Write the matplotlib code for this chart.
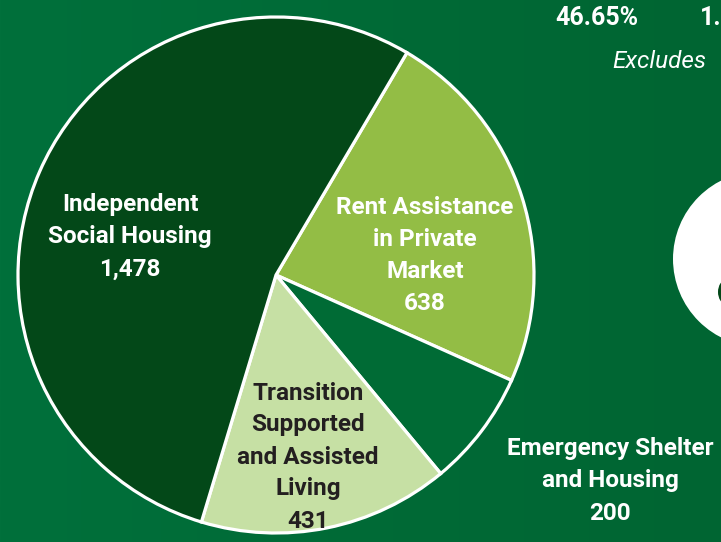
import numpy as np
import matplotlib
matplotlib.use("Agg")
import matplotlib.pyplot as plt
from matplotlib.colors import LinearSegmentedColormap
from matplotlib.patches import Circle, Ellipse

plt.rcParams['font.family'] = ['Roboto', 'DejaVu Sans']

# slices in drawing order (clockwise from the top right)
categories = ["Rent Assistance\nin Private\nMarket", "Emergency Shelter\nand Housing",
              "Transition\nSupported\nand Assisted\nLiving", "Independent\nSocial Housing"]
values = [638, 200, 431, 1478]
slice_colors = ["#93bd45", "#006b35", "#c6e0a4", "#034818"]
label_colors = ["white", "white", "#231f20", "white"]
label_pos = [(425, 256), (610, 481), (308, 457), (130, 237)]

W, H = 721, 542
fig = plt.figure(figsize=(W / 100, H / 100), dpi=100)
ax = fig.add_axes([0, 0, 1, 1])

# background with slight left-to-right shading
bg = LinearSegmentedColormap.from_list("bg", ["#01703b", "#006532"])
ax.imshow(np.linspace(0, 1, 256).reshape(1, -1), cmap=bg, aspect="auto",
          extent=[0, W, 0, H], zorder=0)

wedges, _ = ax.pie(values, colors=slice_colors, startangle=59.5, counterclock=False,
                   center=(276, H - 275), radius=258, frame=True,
                   wedgeprops=dict(edgecolor="white", linewidth=2.3))
for w in wedges:
    w.set_zorder(2)

for cat, v, c, (x, y) in zip(categories, values, label_colors, label_pos):
    ax.text(x, H - y, f"{cat}\n{v:,}", ha="center", va="center", color=c,
            fontsize=17.5, fontweight="bold", linespacing=1.5, zorder=3)

# pieces of the neighbouring panel
ax.text(597, H - 18, "46.65%", ha="center", va="center", color="white",
        fontsize=18, fontweight="bold")
ax.text(700, H - 18, "1.", ha="left", va="center", color="white",
        fontsize=18, fontweight="bold")
ax.text(612, H - 62, "Excludes", ha="left", va="center", color="white",
        fontsize=17.5, fontstyle="italic")
ax.add_patch(Circle((761, H - 259), 88, facecolor="white", edgecolor="none", zorder=2))
ax.add_patch(Ellipse((726, H - 292), 16, 24, facecolor="#034818", edgecolor="none", zorder=3))

ax.set_xlim(0, W)
ax.set_ylim(0, H)
ax.set_aspect("auto")
ax.axis("off")

fig.savefig("out.png", dpi=100)
